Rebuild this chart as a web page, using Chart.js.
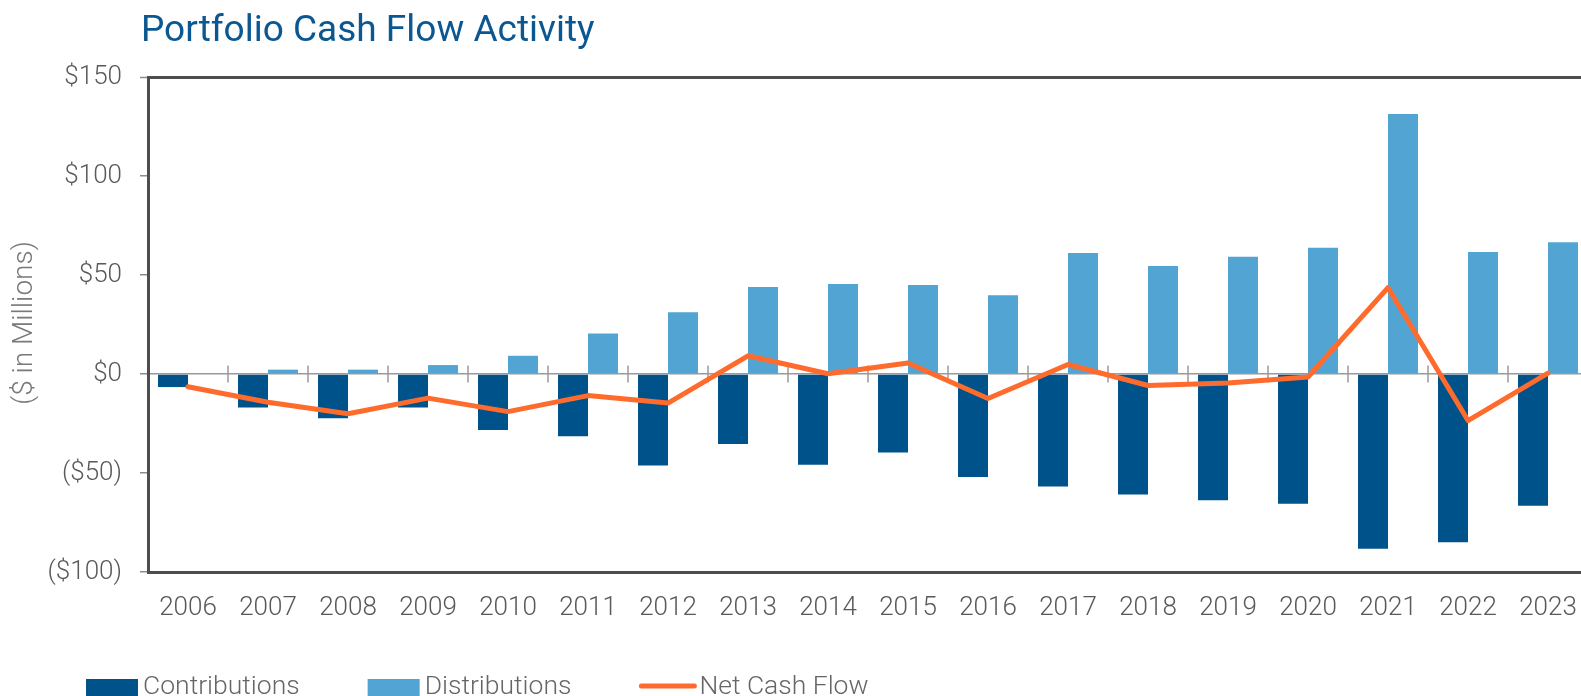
<!DOCTYPE html>
<html>
<head>
<meta charset="utf-8">
<script src="https://cdn.jsdelivr.net/npm/chart.js@4.4.1/dist/chart.umd.min.js"></script>
<style>
  html, body { margin: 0; padding: 0; background: #fff; overflow: hidden; }
  #wrap { width: 1600px; height: 696px; }
</style>
</head>
<body>
<div id="wrap"><canvas id="cashflow" width="1600" height="696"></canvas></div>
<script>
const years = ['2006', '2007', '2008', '2009', '2010', '2011', '2012', '2013', '2014',
  '2015', '2016', '2017', '2018', '2019', '2020', '2021', '2022', '2023'];
const contributions = [-6.6, -16.9, -22.4, -16.9, -28.3, -31.5, -46.2, -35.4, -45.8,
  -39.6, -52.0, -56.8, -60.8, -63.8, -65.5, -88.2, -85.0, -66.5];
const distributions = [0, 2.2, 2.2, 4.5, 9.2, 20.5, 31.2, 43.9, 45.5,
  45.0, 39.8, 61.1, 54.6, 59.2, 63.8, 131.3, 61.6, 66.5];
const netCashFlow = [-6.4, -14.3, -20.1, -12.2, -19.0, -10.9, -14.7, 9.2, 0.1,
  5.6, -12.4, 4.8, -5.8, -4.6, -1.5, 43.6, -23.5, 0.4];
const yTicks = [-100, -50, 0, 50, 100, 150];

const chartTitle = 'Portfolio Cash Flow Activity';
const yTitle = '($ in Millions)';
const legendOrder = ['Contributions', 'Distributions', 'Net Cash Flow'];

const darkBlue = '#00528a';
const lightBlue = '#52a5d3';
const orange = '#ff6b2c';
const labelGrey = '#595959';

function money(v) {
  return v < 0 ? '($' + (-v) + ')' : '$' + v;
}

// title, axis title, category ticks on the zero line, legend
const extras = {
  id: 'extras',
  beforeDatasetsDraw(chart) {
    const { ctx, scales } = chart;
    const x = scales.x, y = scales.y;
    const y0 = y.getPixelForValue(0);
    ctx.save();
    ctx.strokeStyle = '#9a9a9a';
    ctx.lineWidth = 1.5;
    for (let i = 1; i < years.length; i++) {
      const px = (x.getPixelForTick(i - 1) + x.getPixelForTick(i)) / 2;
      ctx.beginPath();
      ctx.moveTo(px, y0 - 8.5);
      ctx.lineTo(px, y0 + 8.5);
      ctx.stroke();
    }
    ctx.restore();
  },
  afterDraw(chart) {
    const ctx = chart.ctx;
    ctx.save();
    ctx.fillStyle = '#0b5791';
    ctx.font = '37px Roboto';
    ctx.textBaseline = 'alphabetic';
    ctx.fillText(chartTitle, 141, 41);

    ctx.translate(25, 323);
    ctx.rotate(-Math.PI / 2);
    ctx.fillStyle = '#7a7a7a';
    ctx.font = '300 28px Roboto';
    ctx.textAlign = 'center';
    ctx.textBaseline = 'middle';
    ctx.fillText(yTitle, 0, 0);
    ctx.restore();

    // legend
    ctx.save();
    ctx.font = '300 26.5px Roboto';
    ctx.textBaseline = 'alphabetic';
    let lx = 86;
    legendOrder.forEach(name => {
      const ds = chart.data.datasets.find(d => d.label === name);
      if (ds.type === 'line') {
        ctx.strokeStyle = ds.borderColor;
        ctx.lineWidth = 5;
        ctx.lineCap = 'round';
        ctx.beginPath();
        ctx.moveTo(lx + 2, 686);
        ctx.lineTo(lx + 55, 686);
        ctx.stroke();
        ctx.fillStyle = '#666';
        ctx.fillText(ds.label, lx + 60, 694);
        lx += 60 + ctx.measureText(ds.label).width + 68;
      } else {
        ctx.fillStyle = ds.backgroundColor;
        ctx.fillRect(lx, 679, 52, 20);
        ctx.fillStyle = '#666';
        ctx.fillText(ds.label, lx + 57, 694);
        lx += 57 + ctx.measureText(ds.label).width + 68;
      }
    });
    ctx.restore();
  }
};

new Chart(document.getElementById('cashflow'), {
  data: {
    labels: years,
    datasets: [
      {
        type: 'line',
        label: 'Net Cash Flow',
        data: netCashFlow,
        borderColor: orange,
        backgroundColor: orange,
        borderWidth: 5,
        borderCapStyle: 'round',
        borderJoinStyle: 'round',
        pointRadius: 0,
        tension: 0,
        order: 0,
      },
      {
        type: 'bar',
        label: 'Contributions',
        data: contributions,
        backgroundColor: darkBlue,
        categoryPercentage: 0.75,
        barPercentage: 1.0,
        order: 1,
      },
      {
        type: 'bar',
        label: 'Distributions',
        data: distributions,
        backgroundColor: lightBlue,
        categoryPercentage: 0.75,
        barPercentage: 1.0,
        order: 2,
      },
    ],
  },
  options: {
    responsive: false,
    animation: false,
    layout: { padding: { top: 77, left: 0, right: 12, bottom: 0 } },
    plugins: {
      legend: { display: false },
      tooltip: { enabled: false },
      title: { display: false },
    },
    scales: {
      x: {
        offset: true,
        grid: { display: false, drawTicks: false },
        border: { display: true, color: '#4d4d4d', width: 3 },
        ticks: {
          color: labelGrey,
          font: { family: 'Roboto', size: 26, weight: '300' },
          padding: 21,
          maxRotation: 0,
        },
        afterFit(s) { s.height = 124; },
      },
      y: {
        min: yTicks[0],
        max: yTicks[yTicks.length - 1],
        afterBuildTicks(s) { s.ticks = yTicks.map(v => ({ value: v })); },
        grid: {
          drawOnChartArea: true,
          color: c => c.tick.value === 0 ? '#9a9a9a' : (c.tick.value === 150 ? '#4d4d4d' : 'rgba(0,0,0,0)'),
          lineWidth: c => c.tick.value === 150 ? 3 : 1.5,
          tickColor: '#8c8c8c',
          tickLength: 8,
          tickWidth: 1.5,
        },
        border: { display: true, color: '#4d4d4d', width: 3 },
        ticks: {
          color: labelGrey,
          font: { family: 'Roboto', size: 26, weight: '300' },
          padding: 18,
          callback: v => money(v),
        },
        afterFit(s) { s.width = 148; },
      },
    },
  },
  plugins: [extras],
});
</script>
</body>
</html>
